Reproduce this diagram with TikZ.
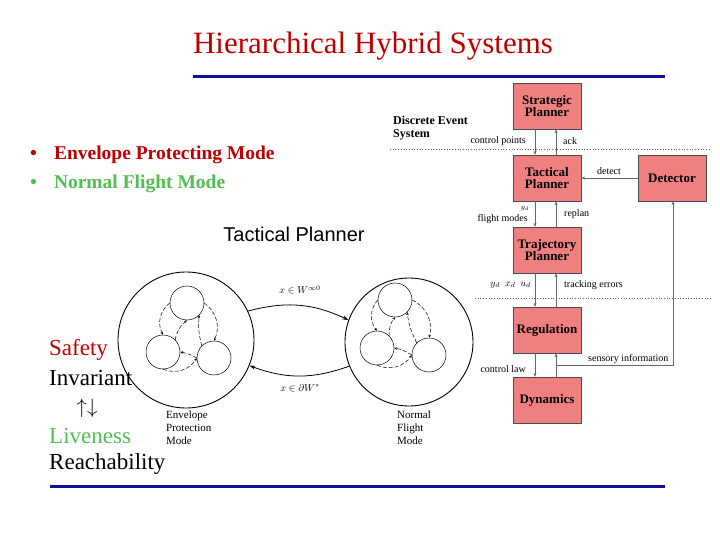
\documentclass[tikz,border=0pt]{standalone}
\usepackage{fontspec}
\setmainfont{Liberation Serif}
\newfontfamily\sansf{Liberation Sans}
\usetikzlibrary{arrows.meta}
\definecolor{boxred}{HTML}{F08080}
\definecolor{tred}{HTML}{C00000}
\definecolor{tgreen}{HTML}{50C050}
\definecolor{tblue}{HTML}{1010A0}
\tikzset{
 blk/.style={draw=black!70,fill=boxred,minimum width=68pt,minimum height=46pt,inner sep=0pt,align=center,font=\fontsize{13}{12.5}\selectfont\bfseries},
 con/.style={draw=black!60,line width=0.6pt,-{Stealth[length=4pt,width=3pt]}},
 lab/.style={font=\fontsize{10}{11}\selectfont,inner sep=1pt},
 big/.style={font=\fontsize{23}{24}\selectfont,anchor=west,inner sep=0pt},
 ring/.style={draw,line width=0.9pt},
 sm/.style={draw,line width=0.5pt},
 dsh/.style={draw,line width=0.5pt,dashed,dash pattern=on 4pt off 2pt,-{Stealth[length=3pt,width=2.5pt]}}
}
\begin{document}
\begin{tikzpicture}[x=1pt,y=-1pt]
\useasboundingbox (0,0) rectangle (720,540);
\node[text=tred,font=\fontsize{31}{33}\selectfont] (title) at (373,46) {Hierarchical Hybrid Systems};
\draw[tblue,line width=3pt] (193,77) -- (665,77);
\draw[tblue,line width=3pt] (50,486) -- (665,486);
% bullets
\node[anchor=west,text=tred,font=\fontsize{19.5}{21}\selectfont\bfseries,inner sep=0pt] (b1) at (30,155) {•\hspace{17pt}Envelope Protecting Mode};
\node[anchor=west,text=tgreen,font=\fontsize{19.5}{21}\selectfont\bfseries,inner sep=0pt] (b2) at (30,184) {•\hspace{17pt}Normal Flight Mode};
\node[font=\sansf\fontsize{20}{22}\selectfont] (tp) at (294,234) {Tactical Planner};
% left texts
\node[big,text=tred] (s1) at (49,350) {Safety};
\node[big] (s2) at (49,378) {Invariant};
\node[font=\fontsize{20}{22}\selectfont,inner sep=0pt] (s3) at (87,408) {$\uparrow\downarrow$};
\node[big,text=tgreen] (s4) at (49,436) {Liveness};
\node[big] (s5) at (49,464) {Reachability};
% right diagram
\node[blk] (sp) at (547,106) {Strategic\\Planner};
\node[blk] (tac) at (547,178) {Tactical\\Planner};
\node[blk] (det) at (672,178) {Detector};
\node[blk] (trj) at (547,250) {Trajectory\\Planner};
\node[blk] (reg) at (547,330) {Regulation};
\node[blk] (dyn) at (547,400) {Dynamics};
\draw[black!60,dotted,line width=0.7pt] (390,149) -- (710,149);
\draw[black!60,dotted,line width=0.7pt] (475,298) -- (710,298);
\node[anchor=west,font=\fontsize{12}{13}\selectfont\bfseries,align=left,inner sep=0pt] (des) at (393,128) {Discrete Event\\System};
\draw[con] (sp.south -| 535,0) -- (tac.north -| 535,0);
\draw[con] (tac.north -| 556,0) -- (sp.south -| 556,0);
\draw[con] (tac.south -| 535,0) -- (trj.north -| 535,0);
\draw[con] (trj.north -| 556,0) -- (tac.south -| 556,0);
\draw[con] (trj.south -| 535,0) -- (reg.north -| 535,0);
\draw[con] (reg.north -| 556,0) -- (trj.south -| 556,0);
\draw[con] (reg.south -| 535,0) -- (dyn.north -| 535,0);
\draw[con] (dyn.north -| 556,0) -- (reg.south -| 556,0);
\draw[con] (det.west) -- (tac.east);
\coordinate (c1) at (556,365);
\coordinate (c2) at (673,365);
\draw[con] (c1) -- (c2) -- (det.south -| c2);
\node[lab,anchor=east] (l1) at (527,141) {control points};
\node[lab,anchor=west] (l2) at (562,141) {ack};
\node[lab] (l3) at (609,171) {detect};
\node[lab,anchor=east] (l4) at (529,219) {flight modes};
\node[lab] (l4b) at (525,209) {$\scriptstyle y_d$};
\node[lab,anchor=west] (l5) at (563,214) {replan};
\node[lab,anchor=east] (l6) at (532,285) {$y_d\ \ x_d\ \ u_d$};
\node[lab,anchor=west] (l7) at (563,285) {tracking errors};
\node[lab,anchor=west] (l8) at (587,359) {sensory information};
\node[lab,anchor=east] (l9) at (527,369) {control law};
% left mode circle
\node[ring,circle,minimum size=136pt,inner sep=0pt] (L) at (186,340) {};
\node[sm,circle,minimum size=34pt,inner sep=0pt] (La) at (187,303) {};
\node[sm,circle,minimum size=34pt,inner sep=0pt] (Lb) at (163,352) {};
\node[sm,circle,minimum size=34pt,inner sep=0pt] (Lc) at (214,358) {};
\draw[dsh] (La.west) to[bend right=40] (Lb.north);
\draw[dsh] (Lb.north east) to[bend left=20] (La.south);
\draw[dsh] (La.east) to[bend left=40] (Lc.north);
\draw[dsh] (Lc.north west) to[bend left=10] (La.south east);
\draw[dsh] (Lb.south) to[bend right=40] (Lc.west);
\draw[dsh] (Lc.west) to[bend right=10] (Lb.east);
% right mode circle
\node[ring,circle,minimum size=128pt,inner sep=0pt] (R) at (409,342) {};
\node[sm,circle,minimum size=34pt,inner sep=0pt] (Ra) at (395,300) {};
\node[sm,circle,minimum size=34pt,inner sep=0pt] (Rb) at (377,348) {};
\node[sm,circle,minimum size=34pt,inner sep=0pt] (Rc) at (429,355) {};
\draw[dsh] (Ra.west) to[bend right=40] (Rb.north);
\draw[dsh] (Rb.north east) to[bend left=20] (Ra.south);
\draw[dsh] (Ra.east) to[bend left=40] (Rc.north);
\draw[dsh] (Rc.north west) to[bend left=10] (Ra.south east);
\draw[dsh] (Rb.south) to[bend right=40] (Rc.west);
\draw[dsh] (Rc.west) to[bend right=10] (Rb.east);
% transitions
\draw[line width=0.8pt,-{Stealth[length=6pt,width=4pt]}] (L.25) to[bend left=20] (R.160);
\draw[line width=0.8pt,-{Stealth[length=6pt,width=4pt]}] (R.202) to[bend left=20] (L.-22);
\node[lab] (t1) at (300,290) {$x \in W^{\infty0}$};
\node[lab] (t2) at (300,388) {$x \in \partial W^{*}$};
\node[lab,anchor=north west,align=left,font=\fontsize{11}{13}\selectfont] (m1) at (165,410) {Envelope\\Protection\\Mode};
\node[lab,anchor=north west,align=left,font=\fontsize{11}{13}\selectfont] (m2) at (396,410) {Normal\\Flight\\Mode};
\end{tikzpicture}
\end{document}
